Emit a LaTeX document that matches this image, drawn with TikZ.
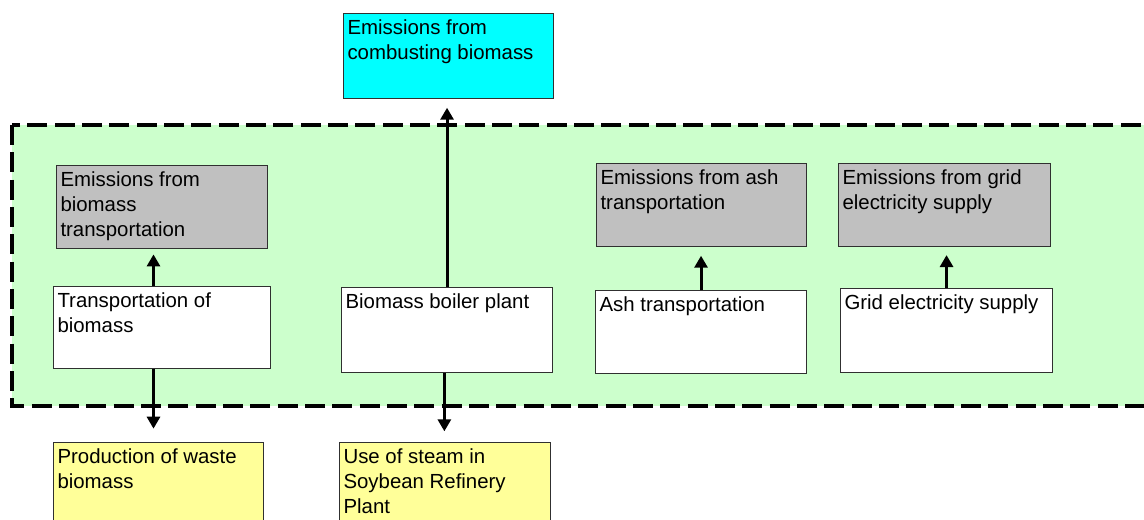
\documentclass[tikz,border=0pt]{standalone}
\usepackage{fontspec}
\setmainfont{Liberation Sans}
\usetikzlibrary{arrows.meta}
\definecolor{zonegreen}{HTML}{CCFFCC}
\definecolor{cyanbox}{HTML}{00FFFF}
\definecolor{greybox}{HTML}{C0C0C0}
\definecolor{yellowbox}{HTML}{FFFF99}
\definecolor{edge}{HTML}{303030}
\begin{document}
\begin{tikzpicture}[
    x=0.75pt, y=-0.75pt,
    box/.style={draw=edge, line width=0.8pt, inner sep=0pt, anchor=north west},
    txt/.style={anchor=north west, align=left, inner xsep=3.2pt, inner ysep=4.5pt,
                font=\fontsize{15.3}{19}\selectfont},
    flow/.style={line width=2.2pt, -{Triangle[length=9pt,width=9.75pt]}},
    boundary/.style={fill=zonegreen, line width=3pt, dash pattern=on 15pt off 5.5pt}
    ]
  \clip (0,0) rectangle (1144,520);
  % project boundary
  \draw[boundary] (12,125) rectangle (1170,406);
  % top
  \node[box, fill=cyanbox, minimum width=157.5pt, minimum height=63.75pt,
        label={[txt]north west:Emissions from\\combusting biomass}] (combust) at (343,13) {};
  % left column
  \node[box, fill=greybox, minimum width=158.25pt, minimum height=62.25pt,
        label={[txt]north west:Emissions from\\biomass\\transportation}] (emtrans) at (56,165) {};
  \node[box, fill=white, minimum width=162.75pt, minimum height=61.5pt,
        label={[txt]north west:Transportation of\\biomass}] (trans) at (53,286) {};
  \node[box, fill=yellowbox, minimum width=157.5pt, minimum height=75pt,
        label={[txt]north west:Production of waste\\biomass}] (waste) at (53,442) {};
  % boiler column
  \node[box, fill=white, minimum width=158.25pt, minimum height=63.75pt,
        label={[txt]north west:Biomass boiler plant}] (boiler) at (341,287) {};
  \node[box, fill=yellowbox, minimum width=158.25pt, minimum height=75pt,
        label={[txt]north west:Use of steam in\\Soybean Refinery\\Plant}] (steam) at (339,442) {};
  % ash and grid
  \node[box, fill=greybox, minimum width=157.5pt, minimum height=62.25pt,
        label={[txt]north west:Emissions from ash\\transportation}] (emash) at (596,163) {};
  \node[box, fill=white, minimum width=158.25pt, minimum height=62.25pt,
        label={[txt]north west:Ash transportation}] (ash) at (595,290) {};
  \node[box, fill=greybox, minimum width=159pt, minimum height=62.25pt,
        label={[txt]north west:Emissions from grid\\electricity supply}] (emgrid) at (838,163) {};
  \node[box, fill=white, minimum width=159pt, minimum height=63pt,
        label={[txt]north west:Grid electricity supply}] (grid) at (840,288) {};
  % arrows
  \draw[flow, shorten >=4pt] ([xshift=-6.4pt]trans.north) -- ([xshift=-6.4pt]trans.north |- emtrans.south);
  \draw[flow, shorten >=10pt] ([xshift=-6.4pt]trans.south) -- ([xshift=-6.4pt]trans.south |- waste.north);
  \draw[flow, shorten >=6.5pt] (boiler.north) -- (boiler.north |- combust.south);
  \draw[flow, shorten >=8pt] ([xshift=-2pt]boiler.south) -- ([xshift=-2pt]boiler.south |- steam.north);
  \draw[flow, shorten >=6.5pt] (ash.north) -- (ash.north |- emash.south);
  \draw[flow, shorten >=6pt] (grid.north) -- (grid.north |- emgrid.south);
\end{tikzpicture}
\end{document}
